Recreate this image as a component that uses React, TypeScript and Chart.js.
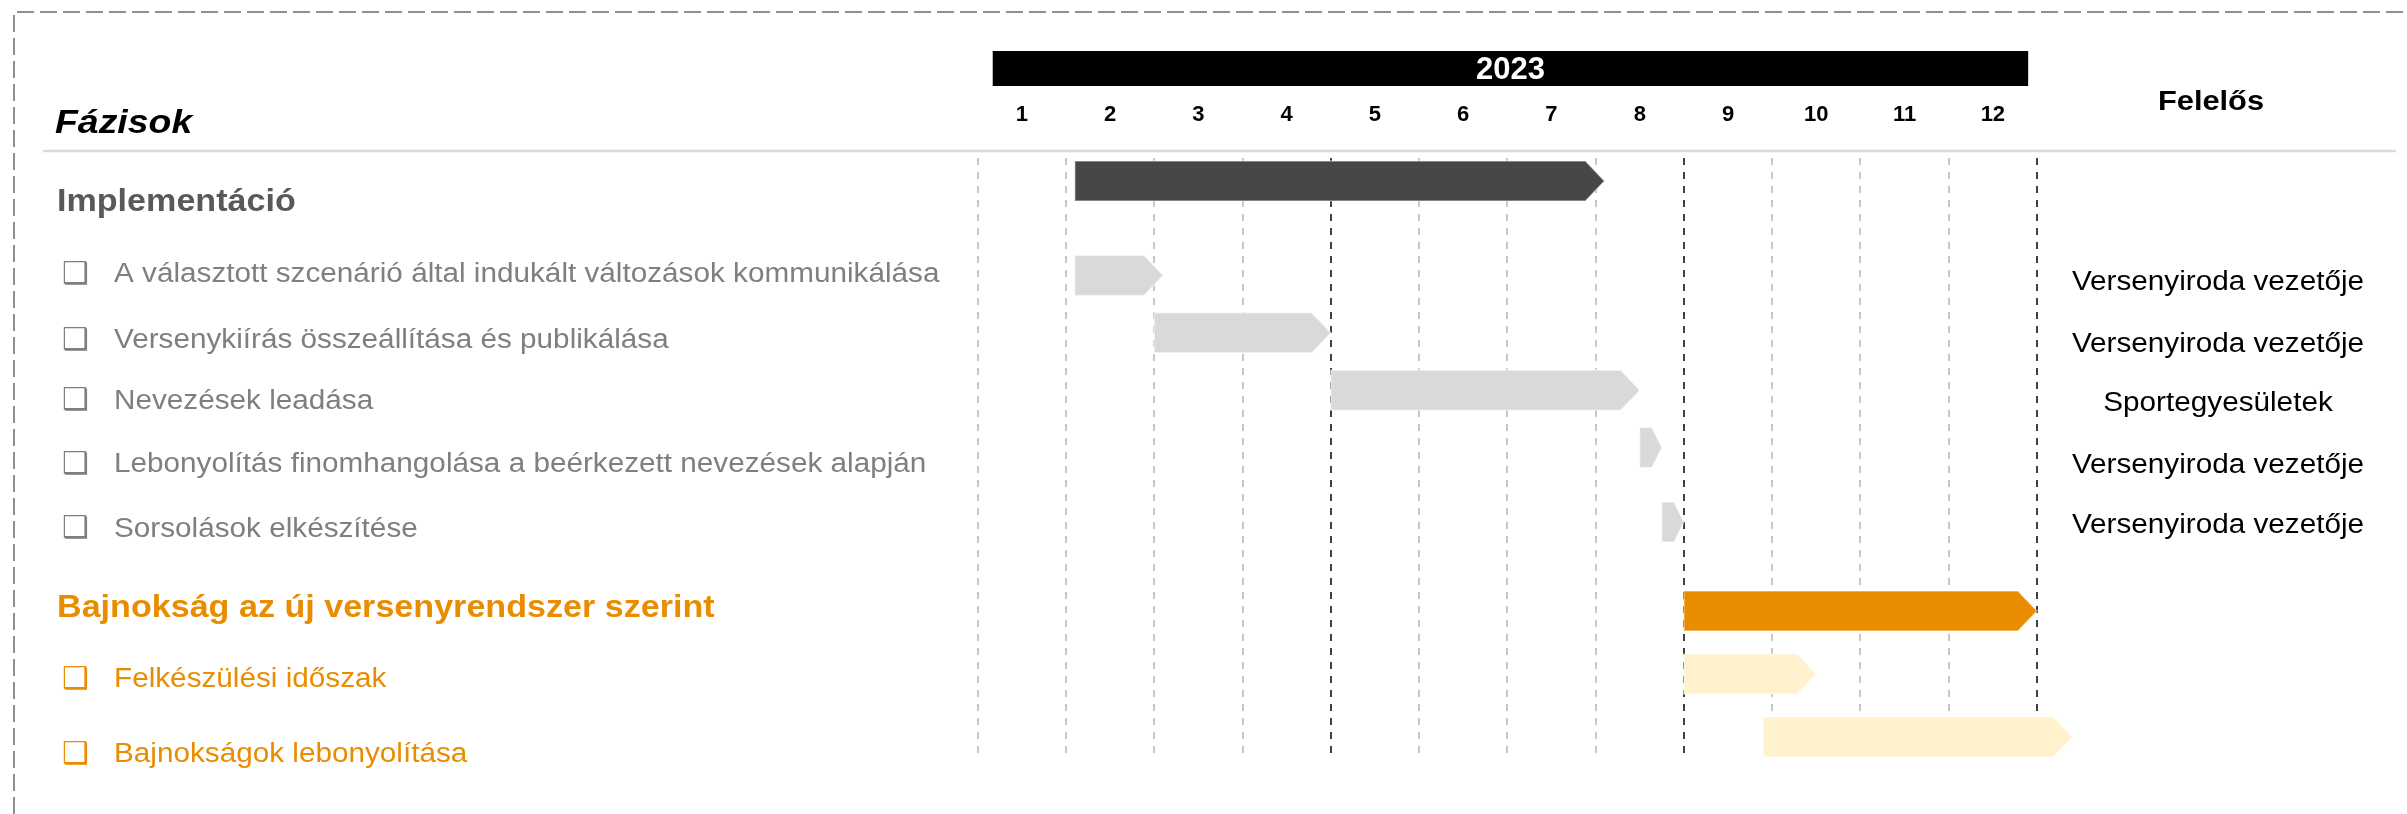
import React, { useEffect, useRef } from 'react';
import { Chart, registerables, BarController, BarElement } from 'chart.js';

Chart.register(...registerables);

// ---------- data ----------
const phases = [
  'Implementáció',
  'A választott szcenárió által indukált változások kommunikálása',
  'Versenykiírás összeállítása és publikálása',
  'Nevezések leadása',
  'Lebonyolítás finomhangolása a beérkezett nevezések alapján',
  'Sorsolások elkészítése',
  'Bajnokság az új versenyrendszer szerint',
  'Felkészülési időszak',
  'Bajnokságok lebonyolítása',
];
const rowKind = ['head', 'task', 'task', 'task', 'task', 'task', 'head', 'task', 'task'];
const rowGroup = [0, 0, 0, 0, 0, 0, 1, 1, 1];
// start / end in months (month m spans m-1 .. m)
const barStart = [1.1, 1.1, 2, 4, 7.5, 7.75, 8, 8, 8.9];
const barEnd = [7.1, 2.1, 4, 7.5, 7.75, 8, 12, 9.5, 12.4];
const owners = ['', 'Versenyiroda vezetője', 'Versenyiroda vezetője', 'Sportegyesületek', 'Versenyiroda vezetője', 'Versenyiroda vezetője', '', '', ''];
const monthLabels = ['1', '2', '3', '4', '5', '6', '7', '8', '9', '10', '11', '12'];
const yearLabel = '2023';
const phaseTitle = 'Fázisok';
const ownerTitle = 'Felelős';

// ---------- layout (row slots on the y scale) ----------
const rowPos = [0, 1.65, 2.65, 3.65, 4.65, 5.95, 7.5, 8.6, 9.7];
const labelPos = [0.38, 1.64, 2.79, 3.84, 4.95, 6.08, 7.45, 8.7, 10.01];
const ownerPos = [0, 1.77, 2.85, 3.88, 4.96, 6.01, 0, 0, 0];
const yearSpan = [0.17, 11.9];

// ---------- styles ----------
const FONT = '"Liberation Sans", Arial, Helvetica, sans-serif';
const STRETCH = 1.1;
const barColors = ['#474747', '#d9d9d9', '#d9d9d9', '#d9d9d9', '#d9d9d9', '#d9d9d9', '#ea8c00', '#fff2cc', '#fff2cc'];
const groupColors = [
  { head: '#595959', task: '#7f7f7f' },
  { head: '#ea8c00', task: '#ea8c00' },
];
const TIP = 19;

class ArrowBar extends BarElement {
  static id = 'arrowBar';
  draw(ctx: CanvasRenderingContext2D) {
    const { x, y, base, height } = (this as any).getProps(['x', 'y', 'base', 'height']);
    const o: any = (this as any).options;
    const left = Math.min(x, base);
    const right = Math.max(x, base);
    const tip = Math.min(TIP, (right - left) * 0.45);
    const top = y - height / 2;
    const bottom = y + height / 2;
    ctx.save();
    ctx.beginPath();
    ctx.moveTo(left, top);
    ctx.lineTo(right - tip, top);
    ctx.lineTo(right, y);
    ctx.lineTo(right - tip, bottom);
    ctx.lineTo(left, bottom);
    ctx.closePath();
    ctx.fillStyle = o.backgroundColor;
    ctx.fill();
    if (o.borderWidth) {
      ctx.lineWidth = o.borderWidth;
      ctx.strokeStyle = o.borderColor;
      ctx.stroke();
    }
    ctx.restore();
  }
}

class ArrowBarController extends BarController {
  static id = 'arrowBar';
  static defaults = { ...(BarController as any).defaults, dataElementType: 'arrowBar' };
  static overrides = (BarController as any).overrides;
}

Chart.register(ArrowBar as any, ArrowBarController as any);

function txt(
  ctx: CanvasRenderingContext2D,
  s: string,
  x: number,
  y: number,
  font: string,
  color: string,
  align: CanvasTextAlign = 'left',
  stretch = STRETCH
) {
  ctx.save();
  ctx.font = font;
  ctx.fillStyle = color;
  ctx.textAlign = align;
  ctx.textBaseline = 'middle';
  ctx.translate(x, y);
  ctx.scale(stretch, 1);
  ctx.fillText(s, 0, 0);
  ctx.restore();
}

const decor = {
  id: 'decor',
  beforeDraw(chart: any) {
    const ctx: CanvasRenderingContext2D = chart.ctx;
    const W = chart.width;
    const H = chart.height;
    ctx.save();
    ctx.fillStyle = '#ffffff';
    ctx.fillRect(0, 0, W, H);
    // dashed frame
    ctx.strokeStyle = '#8f8f8f';
    ctx.lineWidth = 2;
    ctx.setLineDash([17, 6]);
    ctx.beginPath();
    ctx.moveTo(14, H);
    ctx.lineTo(14, 12);
    ctx.lineTo(W, 12);
    ctx.stroke();
    ctx.setLineDash([]);
    // separator
    ctx.strokeStyle = '#dadada';
    ctx.lineWidth = 2.5;
    ctx.beginPath();
    ctx.moveTo(43, 151);
    ctx.lineTo(2396, 151);
    ctx.stroke();
    // year bar
    const xs = chart.scales.x;
    const x0 = xs.getPixelForValue(yearSpan[0]);
    const x1 = xs.getPixelForValue(yearSpan[1]);
    ctx.fillStyle = '#000000';
    ctx.fillRect(x0, 51, x1 - x0, 35);
    ctx.restore();
    txt(ctx, yearLabel, (x0 + x1) / 2, 70, `bold 31px ${FONT}`, '#ffffff', 'center', 1);
    monthLabels.forEach((m, i) => {
      txt(ctx, m, xs.getPixelForValue(i + 0.5), 115, `bold 22px ${FONT}`, '#000000', 'center', 1);
    });
    txt(ctx, phaseTitle, 55, 124, `italic bold 34px ${FONT}`, '#000000', 'left');
    txt(ctx, ownerTitle, 2211, 102, `bold 28px ${FONT}`, '#000000', 'center');
  },
  afterDatasetsDraw(chart: any) {
    const ctx: CanvasRenderingContext2D = chart.ctx;
    const ys = chart.scales.y;
    phases.forEach((p, i) => {
      const y = ys.getPixelForValue(labelPos[i]);
      const g = groupColors[rowGroup[i]];
      if (rowKind[i] === 'head') {
        txt(ctx, p, 57, y, `bold 31px ${FONT}`, g.head, 'left');
      } else {
        txt(ctx, '❑', 62, y, '30px "DejaVu Sans", sans-serif', g.task, 'left', 1);
        txt(ctx, p, 114, y, `27px ${FONT}`, g.task, 'left');
      }
      if (owners[i]) {
        txt(ctx, owners[i], 2218, ys.getPixelForValue(ownerPos[i]), `27px ${FONT}`, '#000000', 'center');
      }
    });
  },
};

export default function App() {
  const ref = useRef<HTMLCanvasElement>(null);
  useEffect(() => {
    document.body.style.margin = '0';
    document.body.style.overflow = 'hidden';
    const canvas = ref.current as HTMLCanvasElement;
    const chart = new Chart(canvas, {
      type: 'arrowBar' as any,
      data: {
        datasets: [
          {
            data: phases.map((_, i) => ({ x: [barStart[i], barEnd[i]], y: rowPos[i] })),
            backgroundColor: barColors,
            borderColor: 'rgba(255,255,255,0.45)',
            borderWidth: 1.5,
            barThickness: 40,
            clip: false,
          } as any,
        ],
      },
      options: {
        responsive: false,
        animation: false,
        indexAxis: 'y',
        events: [],
        layout: { padding: { left: 977.7, right: 370, top: 158, bottom: 54 } },
        plugins: { legend: { display: false }, tooltip: { enabled: false } },
        scales: {
          x: {
            type: 'linear',
            min: 0,
            max: 12,
            position: 'bottom',
            ticks: { display: false, stepSize: 1 },
            grid: {
              drawTicks: false,
              lineWidth: 2,
              color: (c: any) =>
                c.tick && c.tick.value > 0 && c.tick.value % 4 === 0 ? '#404040' : '#c8c8c8',
            },
            border: { display: false, dash: [7, 7] },
            afterFit: (s: any) => {
              s.height = 0;
            },
          },
          y: {
            type: 'linear',
            min: -0.4,
            max: 10.1,
            reverse: true,
            offset: false,
            display: false,
            grid: { display: false, offset: false },
          },
        } as any,
      } as any,
      plugins: [decor],
    });
    return () => chart.destroy();
  }, []);
  return <canvas ref={ref} width={2407} height={814} style={{ display: 'block', width: 2407, height: 814 }} />;
}
